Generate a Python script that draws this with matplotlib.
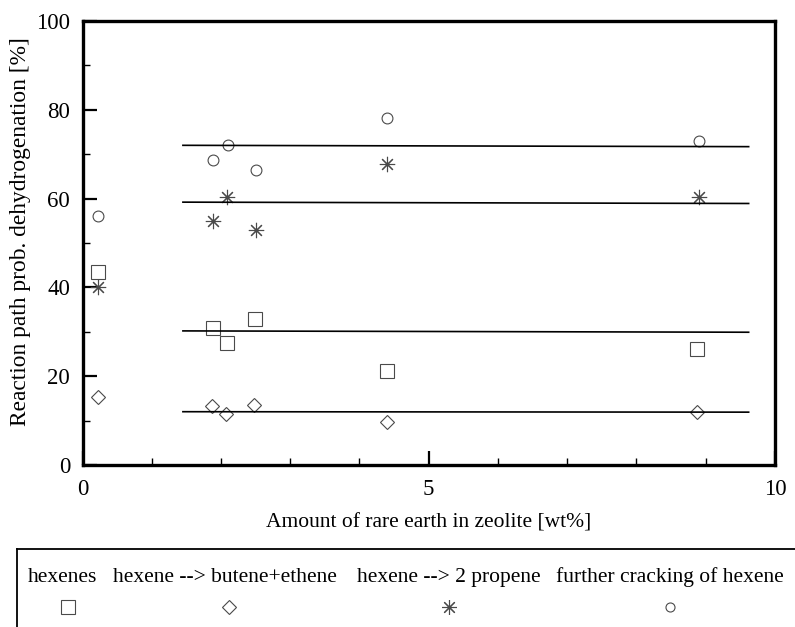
import matplotlib
matplotlib.use("Agg")
import matplotlib.pyplot as plt
from matplotlib.ticker import MultipleLocator

plt.rcParams['font.family'] = ['Liberation Serif', 'DejaVu Serif']

# rare earth content [wt%] and reaction path probabilities [%]
x_hexenes = [0.22, 1.88, 2.08, 2.49, 4.40, 8.88]
y_hexenes = [43.4, 30.9, 27.5, 32.9, 21.2, 26.1]

x_butene = [0.22, 1.87, 2.07, 2.48, 4.40, 8.88]
y_butene = [15.3, 13.2, 11.5, 13.4, 9.6, 11.9]

x_propene = [0.22, 1.89, 2.09, 2.50, 4.39, 8.90]
y_propene = [40.2, 55.0, 60.4, 52.9, 67.9, 60.4]

x_cracking = [0.22, 1.89, 2.10, 2.50, 4.40, 8.90]
y_cracking = [56.1, 68.6, 72.0, 66.5, 78.1, 73.0]

# averaged levels (drawn over the rare-earth exchanged samples)
fit_x = [1.45, 9.62]
fit_hexenes = [30.2, 29.9]
fit_butene = [12.0, 11.9]
fit_propene = [59.2, 58.9]
fit_cracking = [72.0, 71.7]

labels = ['hexenes', 'hexene --> butene+ethene', 'hexene --> 2 propene',
          'further cracking of hexene']

mcol = '#4a4a4a'
star = (8, 2, 0)
styles = [dict(marker='s', ms=10.3), dict(marker='D', ms=6.9),
          dict(marker=star, ms=11), dict(marker='o', ms=7.8)]

fig = plt.figure(figsize=(7.95, 6.27), dpi=100)
ax = fig.add_axes([0.1038, 0.2584, 0.8710, 0.7081])

series = [(x_hexenes, y_hexenes), (x_butene, y_butene),
          (x_propene, y_propene), (x_cracking, y_cracking)]
for (xs, ys), st in zip(series, styles):
    ax.plot(xs, ys, linestyle='none', mfc='none', mec=mcol, mew=0.8, **st)

for fy in [fit_hexenes, fit_butene, fit_propene, fit_cracking]:
    ax.plot(fit_x, fy, color='black', lw=1.2)

ax.set_xlim(0, 10)
ax.set_ylim(0, 100)
ax.xaxis.set_major_locator(MultipleLocator(5))
ax.xaxis.set_minor_locator(MultipleLocator(1))
ax.yaxis.set_major_locator(MultipleLocator(20))
ax.yaxis.set_minor_locator(MultipleLocator(10))
ax.tick_params(which='major', direction='in', length=10, width=1.6,
               labelsize=16.5)
ax.tick_params(axis='x', which='major', pad=10)
ax.tick_params(axis='y', which='major', pad=9)
ax.tick_params(which='minor', direction='in', length=5, width=1)
for sp in ax.spines.values():
    sp.set_linewidth(2.4)

ax.set_xlabel('Amount of rare earth in zeolite [wt%]', fontsize=15.5,
              labelpad=10)
ax.set_ylabel('Reaction path prob. dehydrogenation [%]', fontsize=16.8)
ax.yaxis.set_label_coords(-0.074, 0.526)

# legend box below the plot: names on top, symbols underneath
lax = fig.add_axes([0.0214, -0.05, 1.0, 0.1744])
lax.set_xlim(17, 812)
lax.set_ylim(658.35, 549)
lax.set_xticks([])
lax.set_yticks([])
for sp in lax.spines.values():
    sp.set_linewidth(1.3)
text_x = [63, 225, 449, 670]
mark_x = [68, 229, 449, 670]
leg_styles = [dict(marker='s', ms=10), dict(marker='D', ms=7.5),
              dict(marker=star, ms=10.8), dict(marker='o', ms=6.5)]
for lab, tx, mx, st in zip(labels, text_x, mark_x, leg_styles):
    lax.text(tx, 577, lab, ha='center', va='center', fontsize=15.5)
    lax.plot([mx], [607], linestyle='none', mfc='none', mec=mcol, mew=0.8,
             **st)

fig.savefig('out.png', dpi=100)
